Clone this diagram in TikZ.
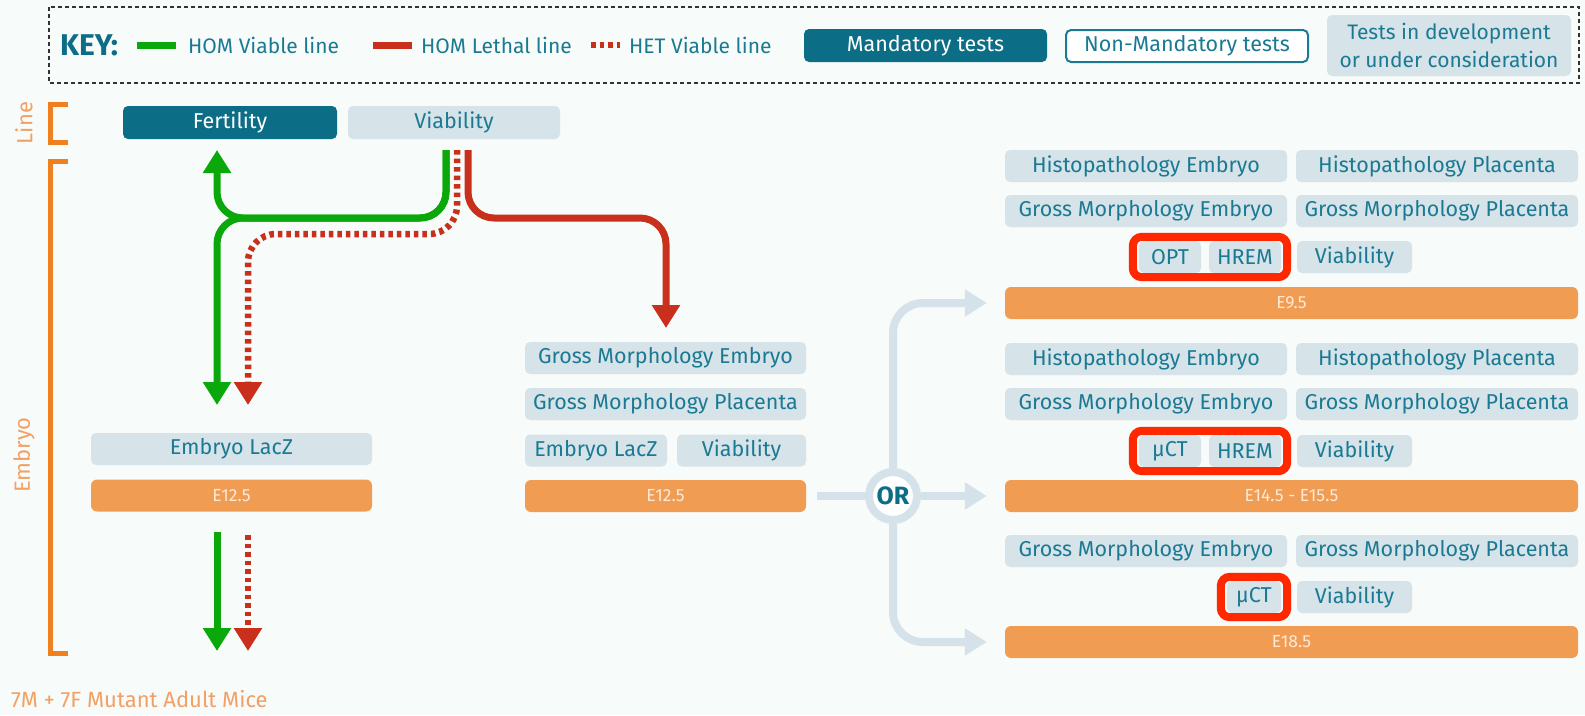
\documentclass[tikz,border=0pt]{standalone}
\usepackage{fontspec}
\setmainfont{Fira Sans}
\usetikzlibrary{arrows.meta,fit}

\definecolor{bg}{RGB}{247,251,249}
\definecolor{mteal}{RGB}{12,109,135}
\definecolor{txt}{RGB}{27,122,147}
\definecolor{pale}{RGB}{214,227,233}
\definecolor{stagefill}{RGB}{241,156,83}
\definecolor{stagetxt}{RGB}{253,233,214}
\definecolor{brk}{RGB}{240,128,30}
\definecolor{lbl}{RGB}{242,160,100}
\definecolor{homgreen}{RGB}{10,168,10}
\definecolor{lethred}{RGB}{200,48,28}
\definecolor{framered}{RGB}{255,40,0}
\definecolor{conn}{RGB}{213,226,233}

\begin{document}
\begin{tikzpicture}[x=1pt,y=-1pt,
  test/.style={fill=pale, text=txt, rounded corners=5pt, inner sep=0pt,
    minimum height=32pt, font=\fontsize{21.5}{24}\selectfont},
  wide/.style={test, minimum width=282pt},
  mandbox/.style={test, fill=mteal, text=white},
  stage/.style={fill=stagefill, text=stagetxt, rounded corners=6pt, inner sep=0pt,
    minimum height=32pt, font=\fontsize{17.5}{20}\selectfont},
  keytext/.style={anchor=west, text=txt, inner sep=0pt, font=\fontsize{21}{24}\selectfont},
  sidelbl/.style={text=lbl, inner sep=0pt, font=\fontsize{22}{25}\selectfont},
  bracket/.style={draw=brk, line width=5pt},
  homline/.style={draw=homgreen, line width=7pt, rounded corners=26pt},
  lethline/.style={draw=lethred, line width=7pt, rounded corners=26pt},
  hetline/.style={draw=lethred, line width=6.5pt, dash pattern=on 4.5pt off 4pt, rounded corners=28pt},
  bigtip/.style={-{Triangle[width=27pt,length=23pt]}},
  orline/.style={draw=conn, line width=8pt, rounded corners=30pt},
  ortip/.style={-{Triangle[width=26pt,length=22pt]}},
  redframe/.style={draw=framered, line width=8pt, rounded corners=9pt, inner xsep=6pt, inner ysep=4pt}
]
\fill[bg] (0,0) rectangle (1585,715);
\useasboundingbox (0,0) rectangle (1585,715);

% ---------- key ----------
\draw[line width=2pt, draw=black!80, dash pattern=on 4pt off 3pt] (49,7) rectangle (1579,83);
\node[anchor=west, text=mteal, inner sep=0pt, font=\fontsize{30}{32}\bfseries] (keyword) at (60,45) {KEY:};
\draw[homgreen, line width=7pt] (137,45) -- (176,45);
\node[keytext] (khv) at (188,45) {HOM Viable line};
\draw[lethred, line width=7pt] (373,45) -- (412,45);
\node[keytext] (khl) at (421,45) {HOM Lethal line};
\draw[lethred, line width=6.5pt, dash pattern=on 4.5pt off 4pt] (591,45) -- (620,45);
\node[keytext] (khet) at (629,45) {HET Viable line};
\node[mandbox, minimum width=243pt, minimum height=33pt] (kmand) at (925.5,45.5) {Mandatory tests};
\node[test, fill=white, draw=txt, line width=2pt, minimum width=242pt, minimum height=32pt] (knon) at (1187,46) {Non-Mandatory tests};
\node[test, minimum width=244pt, minimum height=61pt, align=center, font=\fontsize{21}{28}\selectfont] (kdev) at (1449,45.5) {Tests in development\\or under consideration};

% ---------- side brackets and labels ----------
\node[sidelbl, rotate=90] (linelbl) at (24,123) {Line};
\draw[bracket] (68,104) -- (50,104) -- (50,142) -- (68,142);
\node[sidelbl, rotate=90] (embryolbl) at (24,455) {Embryo};
\draw[bracket] (68,161) -- (50,161) -- (50,653) -- (68,653);
\node[sidelbl, anchor=west] (mice) at (11,699) {7M + 7F Mutant Adult Mice};

% ---------- line tests ----------
\node[mandbox, minimum width=214pt, minimum height=33pt] (fert) at (230,122.5) {Fertility};
\node[test, minimum width=212pt, minimum height=33pt] (viab) at (454,122.5) {Viability};

% ---------- viable branch ----------
\node[test, minimum width=281pt] (laczA) at (231.5,449) {Embryo LacZ};
\node[stage, minimum width=281pt] (stA) at (231.5,495.5) {E12.5};

% ---------- lethal branch ----------
\node[test, minimum width=281pt] (gmeM) at (665.5,358) {Gross Morphology Embryo};
\node[test, minimum width=281pt] (gmpM) at (665.5,404) {Gross Morphology Placenta};
\node[test, minimum width=142pt] (laczM) at (596,450.5) {Embryo LacZ};
\node[test, minimum width=129pt] (viabM) at (741.5,450.5) {Viability};
\node[stage, minimum width=281pt] (stM) at (665.5,496) {E12.5};

% ---------- later stages ----------
\node[wide] (he1) at (1146,166) {Histopathology Embryo};
\node[wide] (hp1) at (1437,166) {Histopathology Placenta};
\node[wide] (gme1) at (1146,211) {Gross Morphology Embryo};
\node[wide] (gmp1) at (1437,211) {Gross Morphology Placenta};
\node[test, minimum width=62pt] (opt1) at (1170,257) {OPT};
\node[test, minimum width=72pt] (hrem1) at (1245,257) {HREM};
\node[test, minimum width=115pt] (via1) at (1354.5,257) {Viability};
\node[redframe, fit=(opt1)(hrem1)] (fr1) {};
\node[stage, minimum width=573pt] (st1) at (1291.5,303) {E9.5};

\node[wide] (he2) at (1146,359) {Histopathology Embryo};
\node[wide] (hp2) at (1437,359) {Histopathology Placenta};
\node[wide] (gme2) at (1146,404) {Gross Morphology Embryo};
\node[wide] (gmp2) at (1437,404) {Gross Morphology Placenta};
\node[test, minimum width=62pt] (uct2) at (1170,451) {µCT};
\node[test, minimum width=72pt] (hrem2) at (1245,451) {HREM};
\node[test, minimum width=115pt] (via2) at (1354.5,451) {Viability};
\node[redframe, fit=(uct2)(hrem2)] (fr2) {};
\node[stage, minimum width=573pt] (st2) at (1291.5,496) {E14.5 - E15.5};

\node[wide] (gme3) at (1146,551) {Gross Morphology Embryo};
\node[wide] (gmp3) at (1437,551) {Gross Morphology Placenta};
\node[test, minimum width=54pt] (uct3) at (1254,597) {µCT};
\node[test, minimum width=115pt] (via3) at (1354.5,597) {Viability};
\node[redframe, fit=(uct3)] (fr3) {};
\node[stage, minimum width=573pt] (st3) at (1291.5,642) {E18.5};

% ---------- flow from the viability test ----------
\coordinate (srcG) at (446,150);
\coordinate (srcH) at (457,150);
\coordinate (srcL) at (468,150);
\coordinate (toFert) at (217,150);
\coordinate (toLaczG) at (217,405);
\coordinate (toLaczH) at (248,405);
\coordinate (toGross) at (666,328);
\draw[homline, bigtip] (srcG) |- (217,218) -- (toFert);
\draw[homline, bigtip] (srcG) |- (217,218) -- (toLaczG);
\draw[hetline, bigtip] (srcH) |- (248,234) -- (toLaczH);
\draw[lethline, bigtip] (srcL) |- (666,218) -- (toGross);

% ---------- on to adult mice ----------
\coordinate (adG0) at (217,532);
\coordinate (adG1) at (217,651);
\coordinate (adH0) at (248,535);
\coordinate (adH1) at (248,651);
\draw[homgreen, line width=7pt, bigtip] (adG0) -- (adG1);
\draw[lethred, line width=6.5pt, dash pattern=on 4.5pt off 4pt, bigtip] (adH0) -- (adH1);

% ---------- OR choice ----------
\node[circle, draw=conn, line width=8pt, fill=white, minimum size=48pt, inner sep=0pt,
      text=mteal, font=\fontsize{25}{27}\bfseries] (orc) at (893,496) {OR};
\draw[orline, shorten <=11pt] (stM.east) -- (orc.west);
\draw[orline, ortip, shorten >=18pt] (orc.north) |- (st1.west);
\draw[orline, ortip, shorten >=18pt] (orc.east) -- (st2.west);
\draw[orline, ortip, shorten >=18pt] (orc.south) |- (st3.west);
\end{tikzpicture}
\end{document}
